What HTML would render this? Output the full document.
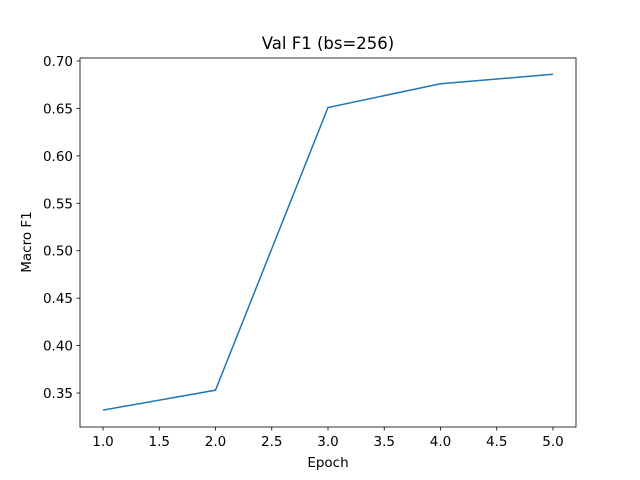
<!DOCTYPE html>
<html><head><meta charset="utf-8"><style>
body{margin:0;background:#fff;}
svg{display:block;font-family:"DejaVu Sans","Liberation Sans",sans-serif;}
</style></head><body>
<svg id="chart" width="640" height="480">
<rect width="640" height="480" fill="#fff"/>
<text x="328" y="49" font-size="16.5" text-anchor="middle">Val F1 (bs=256)</text>
<text x="328" y="467" font-size="13.5" text-anchor="middle">Epoch</text>
<text transform="translate(31,242) rotate(-90)" font-size="13.5" text-anchor="middle">Macro F1</text>
<g id="ticks"></g>
<polyline id="line" fill="none" stroke="#1f77b4" stroke-width="1.5"/>
<rect x="80" y="58" width="496" height="369" fill="none" stroke="#000" stroke-width="0.8"/>
</svg>
<script>
const epochs=[1,2,3,4,5];
const f1=[0.332,0.353,0.651,0.676,0.686];
const xTicks=[1.0,1.5,2.0,2.5,3.0,3.5,4.0,4.5,5.0];
const yTicks=[0.35,0.40,0.45,0.50,0.55,0.60,0.65,0.70];
const x=v=>103+(v-1)*112.5;
const y=v=>61+(0.70-v)*948.6;
const ns="http://www.w3.org/2000/svg";
const g=document.getElementById('ticks');
function mk(t,a){const e=document.createElementNS(ns,t);for(const k in a)e.setAttribute(k,a[k]);g.appendChild(e);return e;}
xTicks.forEach(v=>{
 const l=mk('line',{x1:x(v),x2:x(v),y1:427,y2:430.5,stroke:'#000','stroke-width':0.8});
 
 
 const t=mk('text',{x:x(v),y:446,'font-size':13.5,'text-anchor':'middle'});t.textContent=v.toFixed(1);
 
 
});
yTicks.forEach(v=>{
 const l=mk('line',{x1:76.5,x2:80,y1:y(v),y2:y(v),stroke:'#000','stroke-width':0.8});
 
 
 const t=mk('text',{x:73,y:y(v)+5,'font-size':13.5,'text-anchor':'end'});t.textContent=v.toFixed(2);
 
 
});
document.getElementById('line').setAttribute('points',epochs.map((e,i)=>x(e)+','+y(f1[i])).join(' '));
</script>
</body></html>
